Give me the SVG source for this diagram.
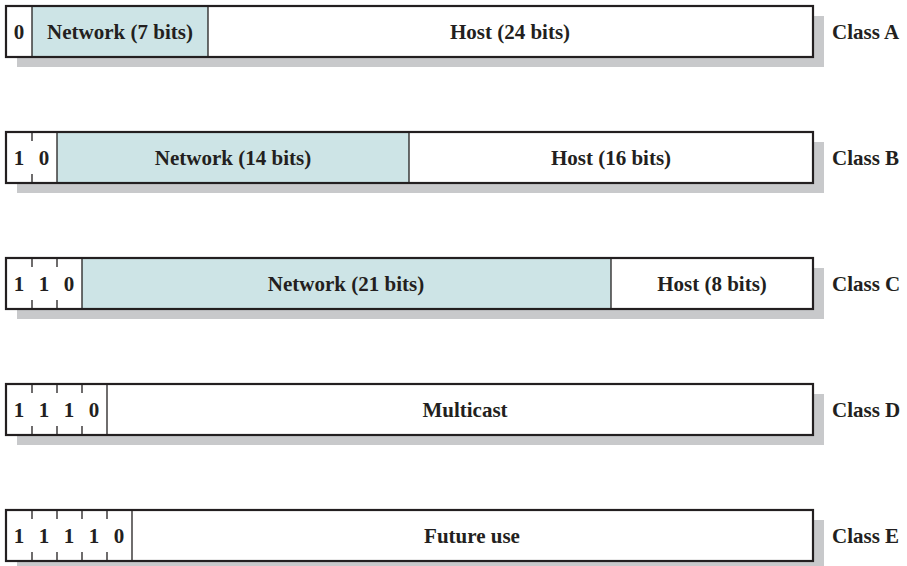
<svg xmlns="http://www.w3.org/2000/svg" width="907" height="566" viewBox="0 0 907 566">
<defs>
<style>
.bg{fill:#ffffff}
.sh{fill:#c8c9cb}
.net{fill:#cde4e6}
.box{fill:none;stroke:#231f20;stroke-width:2.2}
.div{stroke:#231f20;stroke-width:1.3;fill:none}
.t{font-family:"Liberation Serif","Times New Roman",serif;font-weight:bold;font-size:21px;fill:#231f20;text-anchor:middle}
.lbl{font-family:"Liberation Serif","Times New Roman",serif;font-weight:bold;font-size:21px;fill:#231f20;text-anchor:start}
</style>
</defs>
<rect class="bg" x="0" y="0" width="907" height="566"/>

<g id="classA">
<rect class="sh" x="17" y="16" width="807" height="51"/>
<rect class="bg" x="6" y="6" width="807" height="51"/>
<rect class="net" x="32" y="6" width="176" height="51"/>
<line class="div" x1="32" y1="6" x2="32" y2="57"/>
<line class="div" x1="208" y1="6" x2="208" y2="57"/>
<rect class="box" x="6" y="6" width="807" height="51"/>
<text class="t" x="19" y="39">0</text>
<text class="t" x="120" y="39">Network (7 bits)</text>
<text class="t" x="510" y="39">Host (24 bits)</text>
<text class="lbl" x="832" y="39">Class A</text>
</g>

<g id="classB">
<rect class="sh" x="17" y="142" width="807" height="51"/>
<rect class="bg" x="6" y="132" width="807" height="51"/>
<rect class="net" x="57" y="132" width="352" height="51"/>
<line class="div" x1="57" y1="132" x2="57" y2="183"/>
<line class="div" x1="409" y1="132" x2="409" y2="183"/>
<path class="div" d="M32 132v9M32 183v-9"/>
<rect class="box" x="6" y="132" width="807" height="51"/>
<text class="t" x="19" y="165">1</text>
<text class="t" x="44" y="165">0</text>
<text class="t" x="233" y="165">Network (14 bits)</text>
<text class="t" x="611" y="165">Host (16 bits)</text>
<text class="lbl" x="832" y="165">Class B</text>
</g>

<g id="classC">
<rect class="sh" x="17" y="268" width="807" height="51"/>
<rect class="bg" x="6" y="258" width="807" height="51"/>
<rect class="net" x="82" y="258" width="529" height="51"/>
<line class="div" x1="82" y1="258" x2="82" y2="309"/>
<line class="div" x1="611" y1="258" x2="611" y2="309"/>
<path class="div" d="M32 258v9M32 309v-9M57 258v9M57 309v-9"/>
<rect class="box" x="6" y="258" width="807" height="51"/>
<text class="t" x="19" y="291">1</text>
<text class="t" x="44" y="291">1</text>
<text class="t" x="69" y="291">0</text>
<text class="t" x="346" y="291">Network (21 bits)</text>
<text class="t" x="712" y="291">Host (8 bits)</text>
<text class="lbl" x="832" y="291">Class C</text>
</g>

<g id="classD">
<rect class="sh" x="17" y="394" width="807" height="51"/>
<rect class="bg" x="6" y="384" width="807" height="51"/>
<line class="div" x1="107" y1="384" x2="107" y2="435"/>
<path class="div" d="M32 384v9M32 435v-9M57 384v9M57 435v-9M82 384v9M82 435v-9"/>
<rect class="box" x="6" y="384" width="807" height="51"/>
<text class="t" x="19" y="417">1</text>
<text class="t" x="44" y="417">1</text>
<text class="t" x="69" y="417">1</text>
<text class="t" x="94" y="417">0</text>
<text class="t" x="465" y="417">Multicast</text>
<text class="lbl" x="832" y="417">Class D</text>
</g>

<g id="classE">
<rect class="sh" x="17" y="520" width="807" height="51"/>
<rect class="bg" x="6" y="510" width="807" height="51"/>
<line class="div" x1="132" y1="510" x2="132" y2="561"/>
<path class="div" d="M32 510v9M32 561v-9M57 510v9M57 561v-9M82 510v9M82 561v-9M107 510v9M107 561v-9"/>
<rect class="box" x="6" y="510" width="807" height="51"/>
<text class="t" x="19" y="543">1</text>
<text class="t" x="44" y="543">1</text>
<text class="t" x="69" y="543">1</text>
<text class="t" x="94" y="543">1</text>
<text class="t" x="119" y="543">0</text>
<text class="t" x="472" y="543">Future use</text>
<text class="lbl" x="832" y="543">Class E</text>
</g>

<g id="connectors"></g>
</svg>
